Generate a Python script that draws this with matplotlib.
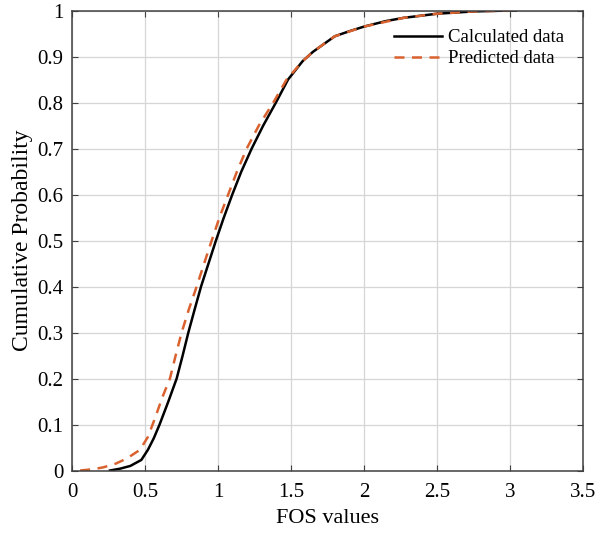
import matplotlib
matplotlib.use("Agg")
import matplotlib.pyplot as plt

calc_x = [0.26, 0.33, 0.40, 0.475, 0.52, 0.56, 0.60, 0.66, 0.717, 0.758,
          0.797, 0.84, 0.884, 0.935, 0.986, 1.04, 1.098, 1.16, 1.231, 1.31,
          1.397, 1.48, 1.58, 1.65, 1.72, 1.80, 1.90, 2.0, 2.15, 2.27, 2.5, 2.75, 3.0, 3.04]
calc_y = [0.0, 0.004, 0.01, 0.023, 0.045, 0.07, 0.10, 0.15, 0.20, 0.25,
          0.30, 0.35, 0.40, 0.45, 0.50, 0.55, 0.60, 0.65, 0.70, 0.75,
          0.80, 0.85, 0.89, 0.91, 0.926, 0.944, 0.955, 0.965, 0.977, 0.984, 0.993, 0.998, 1.0, 1.0]

pred_x = [0.056, 0.15, 0.216, 0.30, 0.375, 0.466, 0.52, 0.57, 0.62, 0.671,
          0.71, 0.751, 0.80, 0.854, 0.905, 0.957, 1.01, 1.07, 1.13, 1.197, 1.28,
          1.379, 1.47, 1.58, 1.65, 1.72, 1.80, 2.0, 2.27, 2.5, 2.75, 3.0]
pred_y = [0.0, 0.003, 0.007, 0.015, 0.026, 0.045, 0.073, 0.115, 0.16, 0.20,
          0.25, 0.30, 0.35, 0.40, 0.45, 0.50, 0.55, 0.60, 0.65, 0.70, 0.75,
          0.80, 0.85, 0.89, 0.91, 0.926, 0.944, 0.965, 0.984, 0.993, 0.998, 1.0]

x_ticks = [0, 0.5, 1, 1.5, 2, 2.5, 3, 3.5]
x_labels = ['0', '0.5', '1', '1.5', '2', '2.5', '3', '3.5']
y_ticks = [i / 10 for i in range(11)]
y_labels = ['0'] + [f'{v:.1f}' for v in y_ticks[1:-1]] + ['1']

plt.rcParams['font.family'] = ['Liberation Serif', 'DejaVu Serif']

fig = plt.figure(figsize=(6.06, 5.36), dpi=100)
ax = fig.add_axes([0.1188, 0.1222, 0.8432, 0.8582])

ax.plot(calc_x, calc_y, color='black', linewidth=1.8, label='Calculated data')
ax.plot(pred_x, pred_y, color='#d9622f', linewidth=1.8, linestyle=(0, (4, 3)),
        label='Predicted data')

ax.set_xlim(0, 3.5)
ax.set_ylim(0, 1)
ax.set_xticks(x_ticks)
ax.set_xticklabels(x_labels)
ax.set_yticks(y_ticks)
ax.set_yticklabels(y_labels)
ax.grid(True, color='#d6d6d6', linewidth=0.9)
ax.set_axisbelow(True)
ax.tick_params(direction='in', top=True, right=True, labelsize=15,
               length=4, color='#404040')
ax.tick_params(axis='x', pad=9)
ax.tick_params(axis='y', pad=6)
for sp in ax.spines.values():
    sp.set_color('#404040')
    sp.set_linewidth(1.1)

ax.set_xlabel('FOS values', fontsize=16, labelpad=5)
ax.set_ylabel('Cumulative Probability', fontsize=17, labelpad=3)

ax.legend(loc='upper right', frameon=False, fontsize=13.5, handlelength=2.6,
          handletextpad=0.3, labelspacing=0.2, borderaxespad=0.6)

fig.savefig('out.png', dpi=100)
